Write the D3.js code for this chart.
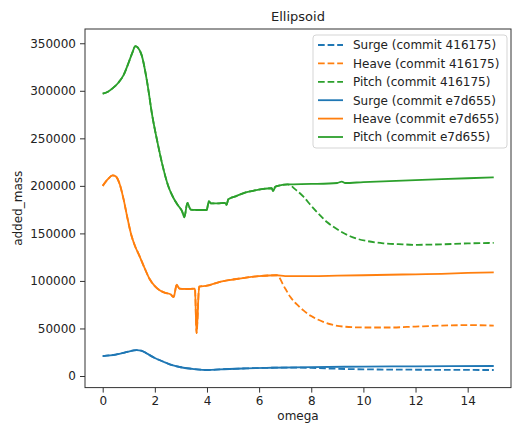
<!DOCTYPE html>
<html>
<head>
<meta charset="utf-8">
<script src="https://cdn.jsdelivr.net/npm/d3@7"></script>
<style>
  html, body { margin: 0; padding: 0; background: #fff; }
  svg { display: block; }
  text { font-family: "DejaVu Sans", sans-serif; fill: #222; }
</style>
</head>
<body>
<svg id="chart" width="512" height="423"></svg>
<script>
// ---- data ----
const xTicks = [0, 2, 4, 6, 8, 10, 12, 14];
const yTicks = [0, 50000, 100000, 150000, 200000, 250000, 300000, 350000];

// Surge (commit e7d655)
const surgeNewW = [0, 0.5, 0.9, 1.3, 1.5, 1.7, 2.0, 2.33, 2.6, 3.0, 3.5, 4.05, 4.5, 5.5, 6.5, 8, 10, 12, 15];
const surgeNewV = [21000, 22500, 25000, 27300, 26500, 23500, 19000, 15000, 12000, 9200, 7300, 6300, 7000, 8000, 8700, 9400, 9900, 10200, 10500];
// Surge (commit 416175) – tail after it leaves the e7d655 curve
const surgeOldTailW = [7, 8, 9, 10, 12, 15];
const surgeOldTailV = [8900, 8500, 7600, 7000, 6600, 6300];

// Heave (commit e7d655)
const heaveNewW = [0, 0.2, 0.38, 0.5, 0.65, 0.8, 0.95, 1.1, 1.25, 1.4, 1.6, 1.8, 2.0, 2.2, 2.4, 2.6, 2.72, 2.84, 2.94, 3.2, 3.54, 3.6, 3.7, 4.0, 4.5, 5.0, 5.5, 6.0, 6.67, 7, 8, 9, 10, 11, 12, 13, 14, 15];
const heaveNewV = [200000, 207000, 211000, 210000, 202000, 186000, 166000, 148000, 136000, 127000, 114000, 102000, 94500, 90000, 87500, 86000, 83000, 96000, 92000, 91500, 92000, 45000, 94000, 95000, 99000, 101500, 103500, 105000, 106000, 105000, 105000, 105500, 106000, 106500, 107000, 107500, 108500, 109000];
// Heave (commit 416175) – tail after ω = 6.67
const heaveOldTailW = [7.0, 7.2, 7.5, 7.7, 8.0, 8.46, 8.8, 9.23, 10.13, 11, 12, 13, 14, 15];
const heaveOldTailV = [92000, 83000, 74000, 69000, 63000, 57000, 54000, 52000, 51000, 51000, 52000, 53000, 53500, 53000];

// Pitch (commit e7d655)
const pitchNewW = [0, 0.2, 0.4, 0.6, 0.8, 1.0, 1.15, 1.25, 1.35, 1.5, 1.7, 1.9, 2.1, 2.3, 2.5, 2.7, 2.9, 3.05, 3.13, 3.25, 3.37, 3.6, 3.99, 4.07, 4.15, 4.4, 4.69, 4.75, 4.82, 5.1, 5.46, 5.8, 6.1, 6.48, 6.54, 6.62, 6.8, 7.1, 8, 9, 9.17, 9.3, 10, 11, 12, 13, 14, 15];
const pitchNewV = [297000, 299000, 303000, 308500, 316500, 330000, 341000, 347000, 345500, 337000, 310000, 274000, 246000, 221000, 201000, 188000, 179000, 173000, 167000, 182000, 175000, 174600, 174600, 184000, 181500, 181500, 182000, 180000, 186000, 189000, 193000, 195000, 196500, 197500, 194600, 199000, 200500, 201500, 202000, 203000, 204500, 203000, 204000, 205000, 206000, 207000, 208000, 209000];
// Pitch (commit 416175) – tail after ω = 7.1
const pitchOldTailW = [7.4, 7.7, 8.0, 8.34, 8.6, 8.85, 9.2, 9.49, 9.8, 10.13, 10.76, 11.5, 12, 13, 14, 15];
const pitchOldTailV = [196000, 188600, 179000, 169000, 162000, 157000, 151000, 147000, 144000, 142000, 139600, 138500, 138000, 138500, 139500, 140000];

const colors = { surge: "#1f77b4", heave: "#ff7f0e", pitch: "#2ca02c" };

// ---- build series ----
function pairs(w, v) { return w.map((d, i) => [d, v[i]]); }
function withTail(w, v, split, tw, tv) {
  const head = pairs(w, v).filter(p => p[0] <= split);
  return head.concat(pairs(tw, tv));
}
const series = [
  { label: "Surge (commit 416175)", color: colors.surge, dash: true,
    data: withTail(surgeNewW, surgeNewV, 6.5, surgeOldTailW, surgeOldTailV) },
  { label: "Heave (commit 416175)", color: colors.heave, dash: true,
    data: withTail(heaveNewW, heaveNewV, 6.67, heaveOldTailW, heaveOldTailV) },
  { label: "Pitch (commit 416175)", color: colors.pitch, dash: true,
    data: withTail(pitchNewW, pitchNewV, 7.1, pitchOldTailW, pitchOldTailV) },
  { label: "Surge (commit e7d655)", color: colors.surge, dash: false, data: pairs(surgeNewW, surgeNewV) },
  { label: "Heave (commit e7d655)", color: colors.heave, dash: false, data: pairs(heaveNewW, heaveNewV) },
  { label: "Pitch (commit e7d655)", color: colors.pitch, dash: false, data: pairs(pitchNewW, pitchNewV) }
];

// ---- layout ----
const L = 85, R = 511, T = 29, B = 387.6;
const x = d3.scaleLinear().domain([-0.679, 15.662]).range([L, R]);
const y = d3.scaleLinear().domain([-12200, 365000]).range([B, T]);

const svg = d3.select("#chart");
const DASH = "6.7,2.9";
const LW = 1.8;

const line = d3.line().x(d => x(d[0])).y(d => y(d[1])).curve(d3.curveMonotoneX);

svg.append("g").selectAll("path").data(series).join("path")
  .attr("d", d => line(d.data))
  .attr("fill", "none")
  .attr("stroke", d => d.color)
  .attr("stroke-width", LW)
  .attr("stroke-linejoin", "round")
  .attr("stroke-dasharray", d => d.dash ? DASH : null);

// axes
const xAxis = d3.axisBottom(x).tickValues(xTicks).tickSize(5).tickPadding(4).tickSizeOuter(0);
const yAxis = d3.axisLeft(y).tickValues(yTicks).tickSize(5).tickPadding(4).tickSizeOuter(0).tickFormat(d3.format("d"));

const gx = svg.append("g").attr("transform", `translate(0,${B})`).call(xAxis);
const gy = svg.append("g").attr("transform", `translate(${L},0)`).call(yAxis);
[gx, gy].forEach(g => {
  g.select(".domain").remove();
  g.selectAll("line").attr("stroke", "#333").attr("stroke-width", 1);
  g.selectAll("text").attr("font-size", 12).attr("font-family", "DejaVu Sans, sans-serif").attr("fill", "#333");
});

// frame
svg.append("rect").attr("x", L).attr("y", T).attr("width", R - L).attr("height", B - T)
  .attr("fill", "none").attr("stroke", "#333").attr("stroke-width", 1);

// title & labels
svg.append("text").attr("x", (L + R) / 2).attr("y", 21).attr("text-anchor", "middle")
  .attr("font-size", 13).text("Ellipsoid");
svg.append("text").attr("x", (L + R) / 2).attr("y", 420).attr("text-anchor", "middle")
  .attr("font-size", 12).text("omega");
svg.append("text").attr("transform", `translate(22,${(T + B) / 2}) rotate(-90)`)
  .attr("text-anchor", "middle").attr("font-size", 12).text("added_mass");

// legend
const lg = svg.append("g");
lg.append("rect").attr("x", 313).attr("y", 35).attr("width", 194).attr("height", 113)
  .attr("rx", 3).attr("fill", "#fff").attr("fill-opacity", 0.8)
  .attr("stroke", "#d5d5d5").attr("stroke-width", 1);
const rows = lg.selectAll("g.row").data(series).join("g")
  .attr("transform", (d, i) => `translate(0,${45 + i * 18.4})`);
rows.append("line").attr("x1", 318).attr("x2", 343).attr("y1", 0).attr("y2", 0)
  .attr("stroke", d => d.color).attr("stroke-width", LW)
  .attr("stroke-dasharray", d => d.dash ? DASH : null);
rows.append("text").attr("x", 353).attr("y", 0).attr("dy", "0.36em")
  .attr("font-size", 12).text(d => d.label);
</script>
</body>
</html>
